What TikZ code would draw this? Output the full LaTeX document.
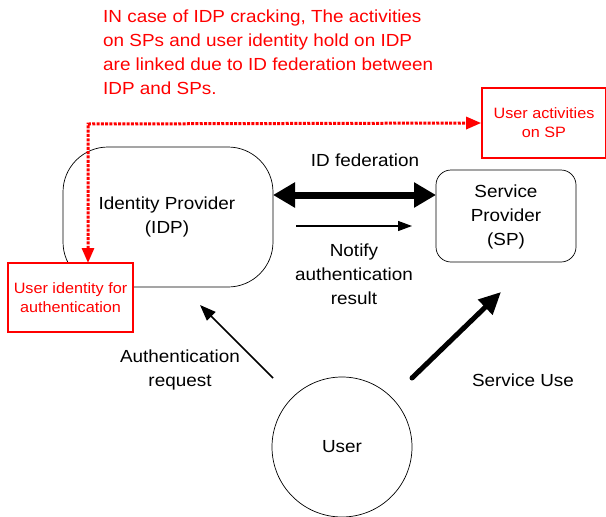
\documentclass[tikz,border=0pt]{standalone}
\usepackage{fontspec}
\setmainfont{Liberation Sans}[FakeStretch=1.08]
\usetikzlibrary{arrows.meta}
\definecolor{myred}{RGB}{255,0,0}
\begin{document}
\begin{tikzpicture}[x=1pt,y=-1pt,
  lbl/.style={font=\fontsize{17.5}{24}\selectfont, align=center, inner sep=0pt},
  redlbl/.style={font=\fontsize{15}{19}\selectfont, align=center, inner sep=0pt, text=myred},
  entity/.style={draw, line width=0.7pt, inner sep=0pt}]
\useasboundingbox (0,0) rectangle (606,517);
\node[font=\fontsize{17.5}{24}\selectfont, text=myred, align=left, anchor=north west, inner sep=0pt] (note) at (103,10)
 {IN case of IDP cracking, The activities\\on SPs and user identity hold on IDP\\are linked due to ID federation between\\IDP and SPs.};
% IDP
\draw[entity, rounded corners=45pt] (63,147) rectangle (273,287);
\coordinate (idpE) at (273,195);
\node[lbl] (idp) at (167,217) {Identity Provider\\(IDP)};
% SP
\draw[entity, rounded corners=15pt] (436,170) rectangle (576,262);
\coordinate (spW) at (436,195);
\node[lbl] (sp) at (506,217) {Service\\Provider\\(SP)};
% User
\node[entity, circle, minimum size=140pt, font=\fontsize{17.5}{24}\selectfont] (user) at (342,447) {User};
% red boxes
\node[draw=myred, fill=white, line width=1.6pt, minimum width=124pt, minimum height=70pt, redlbl] (act) at (544,123) {User activities\\on SP};
\node[draw=myred, fill=white, line width=1.6pt, minimum width=125pt, minimum height=69pt, redlbl] (uid) at (70.5,297.5) {User identity for\\authentication};
% dashed red
\coordinate (corner) at (88,124);
\coordinate (uidtop) at (88,263);
\draw[myred, line width=3pt, dash pattern=on 3pt off 1.3pt, {Triangle[length=15pt,width=12pt]}-{Triangle[length=15pt,width=12pt]}]
  (uidtop) -- (corner) -- (act.west);
% ID federation
\draw[line width=7pt, {Triangle[length=22pt,width=24pt]}-{Triangle[length=22pt,width=24pt]}] (idpE) -- (spW);
\node[lbl] (fed) at (365,160) {ID federation};
% Notify
\coordinate (n1) at (296,226);
\coordinate (n2) at (412,226);
\draw[line width=1.3pt, -{Triangle[length=14pt,width=10pt]}] (n1) -- (n2);
\node[lbl] (notify) at (354,274) {Notify\\authentication\\result};
% Auth request
\coordinate (a1) at (273,378);
\coordinate (a2) at (200,305);
\draw[line width=1.6pt, -{Triangle[length=16pt,width=12pt]}] (a1) -- (a2);
\node[lbl] (areq) at (180,370) {Authentication\\request};
% Service use
\coordinate (s1) at (412,378);
\coordinate (s2) at (501,292);
\draw[line width=5pt, line cap=round, -{Triangle[length=22pt,width=20pt]}] (s1) -- (s2);
\node[lbl] (suse) at (523,380) {Service Use};
\end{tikzpicture}
\end{document}
